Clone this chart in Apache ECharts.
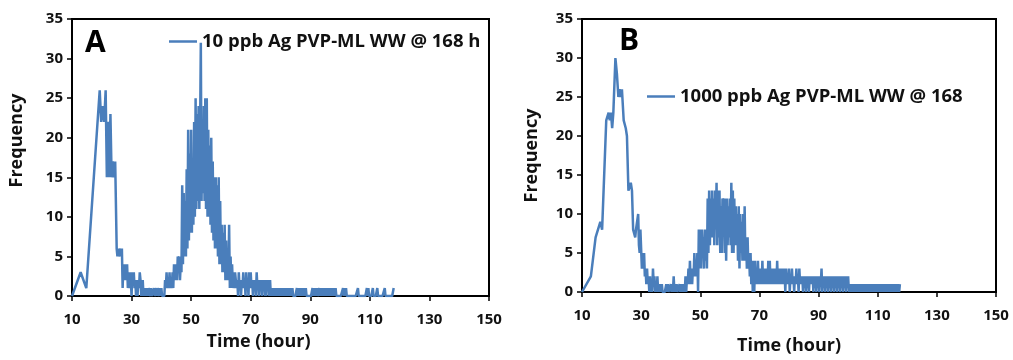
<!DOCTYPE html>
<html>
<head>
<meta charset="utf-8">
<script src="https://cdn.jsdelivr.net/npm/echarts@6/dist/echarts.min.js"></script>
<style>
html,body{margin:0;padding:0;background:#fff;}
#chart{width:1013px;height:360px;}
</style>
</head>
<body>
<div id="chart"></div>
<script>
// ---- data ----
const nameA = '10 ppb Ag PVP-ML WW @ 168 h';
const nameB = '1000 ppb Ag PVP-ML WW @ 168';
const panelLabels = ['A', 'B'];
const xTickLabels = [10, 30, 50, 70, 90, 110, 130, 150];
const yTickLabels = [0, 5, 10, 15, 20, 25, 30, 35];

// Panel A: early (irregular) readings
const timesA1 = [10, 12.9, 14.8, 19.3, 19.8, 20.3, 20.8, 21.3, 21.7, 22.1, 22.5, 22.9, 23.3, 23.7, 24.1, 24.5];
const freqA1  = [0, 3, 1, 26, 22, 24, 22, 26, 15, 22, 15, 23, 15, 17, 15, 17];
// Panel A: dense readings, every 0.25 h from 25.0 h (one row = 5 h)
const startA2 = 25.0;
const stepA2 = 0.25;
const freqA2 = [
  6,5,6,5,5,6,5,6,1,4,2,4,3,2,4,1,3,1,3,2,
  0,3,2,3,1,2,0,2,0,2,1,3,2,0,1,2,0,1,0,1,
  0,1,0,1,1,0,1,0,0,0,1,0,0,1,0,1,1,0,1,0,
  1,0,0,0,0,2,1,3,1,2,1,3,1,2,1,3,1,4,2,4,
  4,2,5,3,5,2,4,3,14,4,13,5,12,5,16,6,21,7,18,8,
  21,8,17,9,22,10,25,11,23,12,24,11,21,32,12,22,13,24,12,25,
  11,25,10,21,10,19,9,20,8,17,7,15,6,15,6,14,5,15,4,12,
  4,9,3,8,3,9,2,7,2,6,2,9,1,5,1,4,1,3,1,3,
  3,1,2,0,3,1,2,0,2,1,3,1,2,0,3,1,2,0,3,1,
  3,1,2,0,2,1,2,0,3,1,2,0,2,1,2,0,2,1,2,0,
  2,0,2,1,2,0,2,0,1,0,1,0,1,0,1,0,1,0,1,0,
  1,0,1,0,1,0,1,0,1,0,1,0,1,0,1,0,1,0,0,0,
  0,0,1,0,1,0,1,0,1,0,1,0,1,0,1,0,0,0,0,0,
  0,0,0,1,0,1,0,1,0,1,0,0,1,0,1,0,1,0,1,0,
  1,0,1,0,1,0,1,0,1,0,1,0,1,0,1,0,0,0,0,0,
  0,0,0,0,1,0,1,0,1,0,0,0,0,0,0,0,0,0,0,0,
  0,0,0,0,1,0,0,0,0,0,0,0,0,0,0,0,1,0,1,0,
  0,0,0,0,1,0,0,0,0,0,1,0,0,0,0,0,0,0,0,0,
  1,0,0,0,0,0,0,0,0,0,0,0,1
];

// Panel B: early (irregular) readings
const timesB1 = [10, 13, 14.6, 16.2, 16.8, 17.1, 18.2, 19.0, 19.4, 19.8, 20.2, 20.6, 21.3, 21.8, 22.3, 22.7, 23.1, 23.5, 24.1, 24.8, 25.2, 25.7, 26.2, 26.5, 26.9, 27.3];
const freqB1  = [0, 2, 7, 9, 8, 8, 22, 23, 22, 23, 21, 23, 30, 28, 25, 26, 25, 26, 22, 21, 20, 13, 13, 14, 13, 8];
// Panel B: dense readings, every 0.25 h from 27.5 h
const startB2 = 27.5;
const stepB2 = 0.25;
const freqB2 = [
  8,8,7,8,8,8,10,6,5,8,
  8,3,5,3,5,2,3,1,3,1,2,0,2,0,1,0,3,1,2,0,
  1,0,2,0,1,0,1,0,1,0,0,0,0,0,1,0,1,0,0,0,
  1,0,1,0,2,0,1,0,1,0,0,0,1,0,1,0,1,0,1,0,
  2,0,2,1,3,1,4,1,3,1,3,2,5,2,4,2,5,0,8,3,
  8,3,8,5,7,3,8,4,8,3,12,5,13,6,12,7,13,7,12,6,
  13,8,14,6,13,7,13,5,11,5,12,8,12,5,12,4,12,6,11,7,
  12,6,14,5,13,5,12,6,11,6,10,4,11,3,10,5,9,4,10,4,
  11,4,7,3,7,3,5,2,5,1,4,0,4,0,4,1,3,1,4,1,
  3,1,3,1,4,1,3,1,3,1,3,1,4,1,4,1,3,1,3,1,
  3,1,3,1,4,1,3,1,3,1,3,1,3,1,3,0,3,1,2,1,
  3,0,2,1,3,1,2,0,2,1,3,1,2,0,3,1,2,1,2,0,
  2,1,2,0,2,1,2,0,2,1,2,1,2,0,2,1,2,0,2,1,
  2,0,2,1,3,0,2,1,2,0,2,1,2,0,2,1,2,0,2,1,
  2,0,2,1,2,0,2,1,2,0,2,1,2,0,2,1,2,0,2,1,
  2,0,1,0,1,0,1,0,1,0,1,0,1,0,1,0,1,0,1,0,
  1,0,1,0,1,0,1,0,1,0,1,0,1,0,1,0,1,0,1,0,
  1,0,1,0,1,0,1,0,1,0,1,0,1,0,1,0,1,0,1,0,
  1,0,1,0,1,0,1,0,1,0,1
];

// ---- build ----
function buildSeries(t1, f1, start, step, f2) {
  const out = t1.map((t, i) => [t, f1[i]]);
  f2.forEach((v, i) => out.push([+(start + i * step).toFixed(2), v]));
  return out;
}
const dataA = buildSeries(timesA1, freqA1, startA2, stepA2, freqA2);
const dataB = buildSeries(timesB1, freqB1, startB2, stepB2, freqB2);

const FONT = 'Open Sans';
const BLUE = '#4A7EBB';
const INK = '#111';

function xAxis(gridIndex, namePad, nameGap) {
  return {
    type: 'value', gridIndex, min: 10, max: 150,
    name: 'Time (hour)', nameLocation: 'middle', nameGap,
    nameTextStyle: {fontFamily: FONT, fontWeight: 'bold', fontSize: 18, color: INK, padding: namePad},
    axisLine: {show: true, onZero: false, lineStyle: {color: '#000', width: 2}},
    axisTick: {show: true, inside: false, length: 5, customValues: xTickLabels, lineStyle: {color: '#000', width: 1.5}},
    axisLabel: {customValues: xTickLabels, margin: 16, fontFamily: FONT, fontWeight: 'bold', fontSize: 15, color: INK},
    splitLine: {show: false}
  };
}
function yAxis(gridIndex, namePad, nameGap) {
  return {
    type: 'value', gridIndex, min: 0, max: 35,
    name: 'Frequency', nameLocation: 'middle', nameGap,
    nameTextStyle: {fontFamily: FONT, fontWeight: 'bold', fontSize: 18, color: INK, padding: namePad},
    axisLine: {show: true, lineStyle: {color: '#000', width: 2}},
    axisTick: {show: true, inside: false, length: 5, customValues: yTickLabels, lineStyle: {color: '#000', width: 1.5}},
    axisLabel: {customValues: yTickLabels, margin: 9, fontFamily: FONT, fontWeight: 'bold', fontSize: 15, color: INK},
    splitLine: {show: false}
  };
}

const chart = echarts.init(document.getElementById('chart'), null, {renderer: 'canvas'});
chart.setOption({
  animation: false,
  backgroundColor: '#fff',
  title: [
    {text: panelLabels[0], left: 85, top: 28, padding: 0, textStyle: {fontFamily: FONT, fontWeight: 'bold', fontSize: 30, color: '#000'}},
    {text: panelLabels[1], left: 619, top: 26, padding: 0, textStyle: {fontFamily: FONT, fontWeight: 'bold', fontSize: 30, color: '#000'}}
  ],
  legend: [
    {data: [nameA], left: 169, top: 32, padding: 0, itemWidth: 28, itemHeight: 2.5, icon: 'rect', itemGap: 0,
     textStyle: {fontFamily: FONT, fontWeight: 'bold', fontSize: 18.5, color: INK}},
    {data: [nameB], left: 647, top: 87, padding: 0, itemWidth: 28, itemHeight: 2.5, icon: 'rect', itemGap: 0,
     textStyle: {fontFamily: FONT, fontWeight: 'bold', fontSize: 18.5, color: INK}}
  ],
  grid: [
    {left: 72, top: 19, width: 417, height: 277, show: true, borderColor: '#000', borderWidth: 2, backgroundColor: 'transparent'},
    {left: 582, top: 19, width: 414, height: 277, show: true, borderColor: '#000', borderWidth: 2, backgroundColor: 'transparent'}
  ],
  xAxis: [xAxis(0, [0, 44, 0, 0], 37), xAxis(1, 0, 45)],
  yAxis: [yAxis(0, [0, 0, 0, 34], 46), yAxis(1, 0, 41)],
  series: [
    {name: nameA, type: 'line', xAxisIndex: 0, yAxisIndex: 0, data: dataA, symbol: 'none', smooth: false,
     lineStyle: {color: BLUE, width: 2.5}, itemStyle: {color: BLUE}},
    {name: nameB, type: 'line', xAxisIndex: 1, yAxisIndex: 1, data: dataB, symbol: 'none', smooth: false,
     lineStyle: {color: BLUE, width: 2.5}, itemStyle: {color: BLUE}}
  ]
});
</script>
</body>
</html>
